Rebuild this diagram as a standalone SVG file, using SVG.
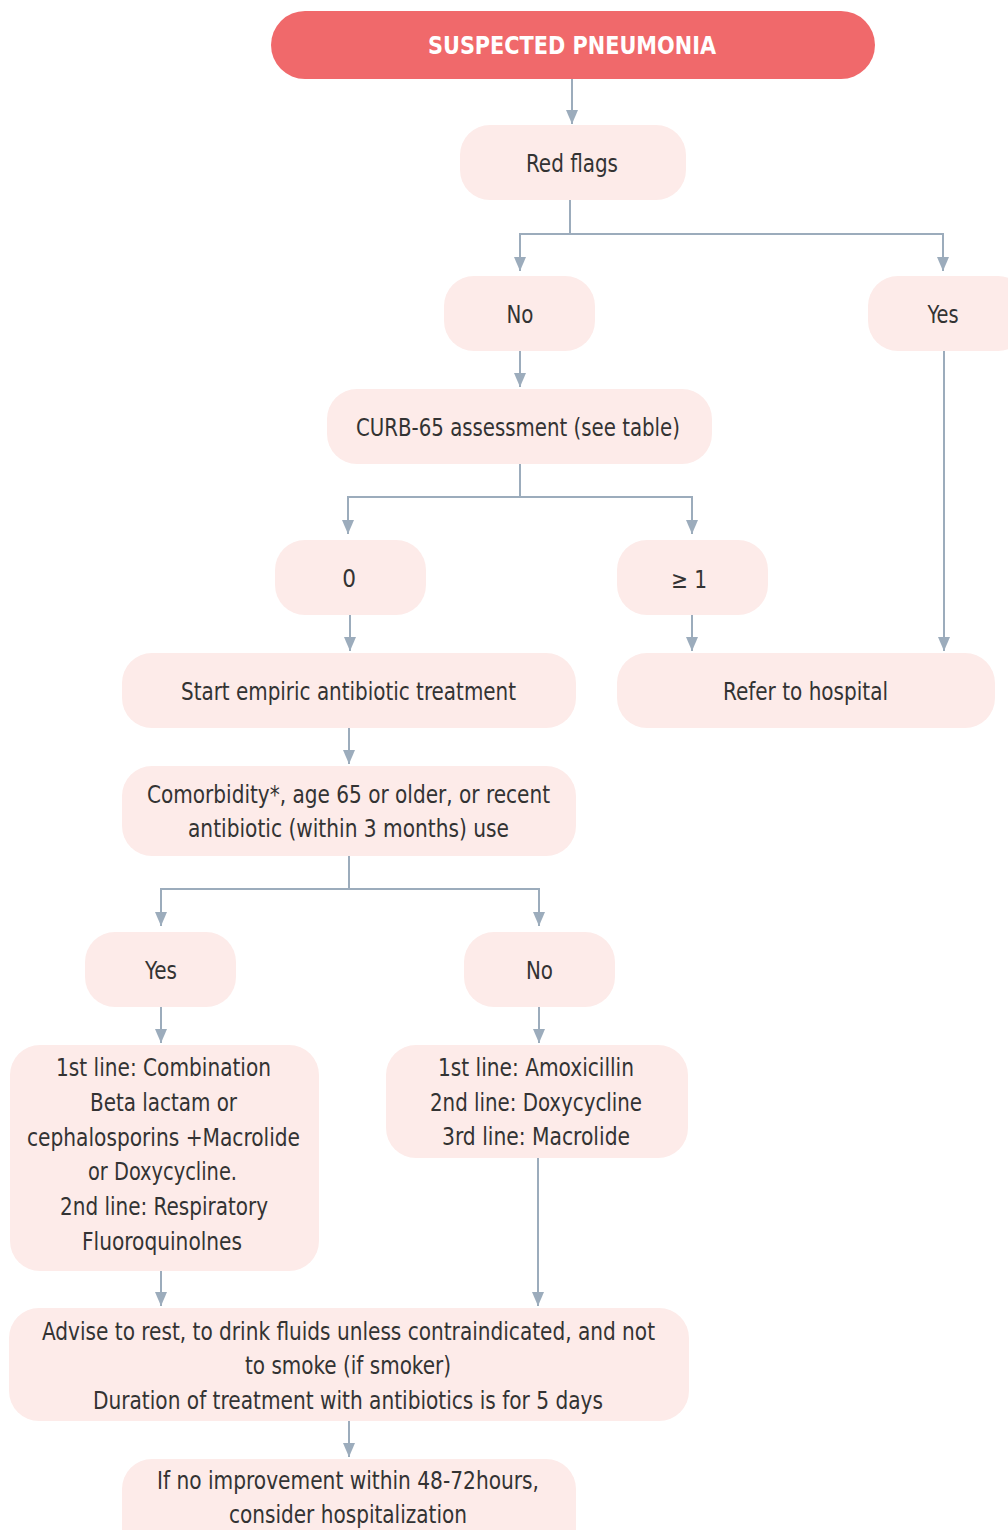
<svg xmlns="http://www.w3.org/2000/svg" width="1008" height="1530" viewBox="0 0 1008 1530">
  <style>
    .box { fill: #fdebe9; }
    .lbl { font-family: "DejaVu Sans Condensed", "Liberation Sans", sans-serif; font-size: 24px; fill: #333333; text-anchor: middle; }
    .title { font-family: "DejaVu Sans Condensed", "Liberation Sans", sans-serif; font-size: 24px; font-weight: bold; fill: #ffffff; text-anchor: middle; }
    .wire { fill: none; stroke: #9cacbc; stroke-width: 2; }
  </style>
  <defs>
    <marker id="down" markerUnits="userSpaceOnUse" markerWidth="12" markerHeight="14" refX="6" refY="14" orient="0" viewBox="0 0 12 14">
      <path d="M0,0 L12,0 L6,14 Z" fill="#9cacbc"/>
    </marker>
  </defs>

  <rect width="1008" height="1530" fill="#ffffff"/>

  <!-- connectors -->
  <g id="connectors" class="wire">
    <path d="M572,79 V124" marker-end="url(#down)"/>
    <path d="M570,200 V234 H520 V271" marker-end="url(#down)"/>
    <path d="M570,234 H943 V271" marker-end="url(#down)"/>
    <path d="M520,351 V387" marker-end="url(#down)"/>
    <path d="M520,464 V497 H348 V534" marker-end="url(#down)"/>
    <path d="M520,497 H692 V534" marker-end="url(#down)"/>
    <path d="M350,615 V651" marker-end="url(#down)"/>
    <path d="M692,615 V651" marker-end="url(#down)"/>
    <path d="M944,351 V651" marker-end="url(#down)"/>
    <path d="M349,728 V764" marker-end="url(#down)"/>
    <path d="M349,856 V889 H161 V926" marker-end="url(#down)"/>
    <path d="M349,889 H539 V926" marker-end="url(#down)"/>
    <path d="M161,1007 V1043" marker-end="url(#down)"/>
    <path d="M539,1007 V1043" marker-end="url(#down)"/>
    <path d="M161,1271 V1306" marker-end="url(#down)"/>
    <path d="M538,1158 V1306" marker-end="url(#down)"/>
    <path d="M349,1421 V1457" marker-end="url(#down)"/>
  </g>

  <!-- nodes -->
  <g id="start">
    <rect x="271" y="11" width="604" height="68" rx="34" fill="#f0696b"/>
    <text class="title" x="572" y="54" textLength="288" lengthAdjust="spacingAndGlyphs">SUSPECTED PNEUMONIA</text>
  </g>
  <g id="red-flags">
    <rect class="box" x="460" y="125" width="226" height="75" rx="30"/>
    <text class="lbl" x="572" y="172" textLength="92" lengthAdjust="spacingAndGlyphs">Red flags</text>
  </g>
  <g id="flags-no">
    <rect class="box" x="444" y="276" width="151" height="75" rx="30"/>
    <text class="lbl" x="520" y="323" textLength="27" lengthAdjust="spacingAndGlyphs">No</text>
  </g>
  <g id="flags-yes">
    <rect class="box" x="868" y="276" width="160" height="75" rx="30"/>
    <text class="lbl" x="943" y="323" textLength="31" lengthAdjust="spacingAndGlyphs">Yes</text>
  </g>
  <g id="curb65">
    <rect class="box" x="327" y="389" width="385" height="75" rx="30"/>
    <text class="lbl" x="518" y="436" textLength="324" lengthAdjust="spacingAndGlyphs">CURB-65 assessment (see table)</text>
  </g>
  <g id="score-0">
    <rect class="box" x="275" y="540" width="151" height="75" rx="30"/>
    <text class="lbl" x="349" y="587">0</text>
  </g>
  <g id="score-1plus">
    <rect class="box" x="617" y="540" width="151" height="75" rx="30"/>
    <text class="lbl" x="689" y="588" textLength="36" lengthAdjust="spacingAndGlyphs">&#8805; 1</text>
  </g>
  <g id="empiric">
    <rect class="box" x="122" y="653" width="454" height="75" rx="30"/>
    <text class="lbl" x="348.5" y="700" textLength="335" lengthAdjust="spacingAndGlyphs">Start empiric antibiotic treatment</text>
  </g>
  <g id="refer">
    <rect class="box" x="617" y="653" width="378" height="75" rx="30"/>
    <text class="lbl" x="805.5" y="700" textLength="165" lengthAdjust="spacingAndGlyphs">Refer to hospital</text>
  </g>
  <g id="comorbidity">
    <rect class="box" x="122" y="766" width="454" height="90" rx="30"/>
    <text class="lbl" x="348.5" y="803" textLength="403" lengthAdjust="spacingAndGlyphs">Comorbidity*, age 65 or older, or recent</text>
    <text class="lbl" x="348.5" y="837" textLength="321" lengthAdjust="spacingAndGlyphs">antibiotic (within 3 months) use</text>
  </g>
  <g id="risk-yes">
    <rect class="box" x="85" y="932" width="151" height="75" rx="30"/>
    <text class="lbl" x="161" y="979" textLength="32" lengthAdjust="spacingAndGlyphs">Yes</text>
  </g>
  <g id="risk-no">
    <rect class="box" x="464" y="932" width="151" height="75" rx="30"/>
    <text class="lbl" x="539.5" y="979" textLength="27" lengthAdjust="spacingAndGlyphs">No</text>
  </g>
  <g id="combination">
    <rect class="box" x="10" y="1045" width="309" height="226" rx="30"/>
    <text class="lbl" x="163.5" y="1076" textLength="215" lengthAdjust="spacingAndGlyphs">1st line: Combination</text>
    <text class="lbl" x="163.5" y="1111" textLength="147" lengthAdjust="spacingAndGlyphs">Beta lactam or</text>
    <text class="lbl" x="163.5" y="1146" textLength="273" lengthAdjust="spacingAndGlyphs">cephalosporins +Macrolide</text>
    <text class="lbl" x="162.5" y="1180" textLength="149" lengthAdjust="spacingAndGlyphs">or Doxycycline.</text>
    <text class="lbl" x="164" y="1215" textLength="208" lengthAdjust="spacingAndGlyphs">2nd line: Respiratory</text>
    <text class="lbl" x="162" y="1250" textLength="160" lengthAdjust="spacingAndGlyphs">Fluoroquinolnes</text>
  </g>
  <g id="amoxicillin">
    <rect class="box" x="386" y="1045" width="302" height="113" rx="30"/>
    <text class="lbl" x="536" y="1076" textLength="196" lengthAdjust="spacingAndGlyphs">1st line: Amoxicillin</text>
    <text class="lbl" x="536" y="1111" textLength="212" lengthAdjust="spacingAndGlyphs">2nd line: Doxycycline</text>
    <text class="lbl" x="536" y="1145" textLength="188" lengthAdjust="spacingAndGlyphs">3rd line: Macrolide</text>
  </g>
  <g id="advice">
    <rect class="box" x="9" y="1308" width="680" height="113" rx="30"/>
    <text class="lbl" x="348.5" y="1340" textLength="613" lengthAdjust="spacingAndGlyphs">Advise to rest, to drink fluids unless contraindicated, and not</text>
    <text class="lbl" x="348" y="1374" textLength="206" lengthAdjust="spacingAndGlyphs">to smoke (if smoker)</text>
    <text class="lbl" x="348" y="1409" textLength="510" lengthAdjust="spacingAndGlyphs">Duration of treatment with antibiotics is for 5 days</text>
  </g>
  <g id="review">
    <rect class="box" x="122" y="1459" width="454" height="100" rx="30"/>
    <text class="lbl" x="348" y="1489" textLength="382" lengthAdjust="spacingAndGlyphs">If no improvement within 48-72hours,</text>
    <text class="lbl" x="348" y="1523" textLength="238" lengthAdjust="spacingAndGlyphs">consider hospitalization</text>
  </g>
</svg>
